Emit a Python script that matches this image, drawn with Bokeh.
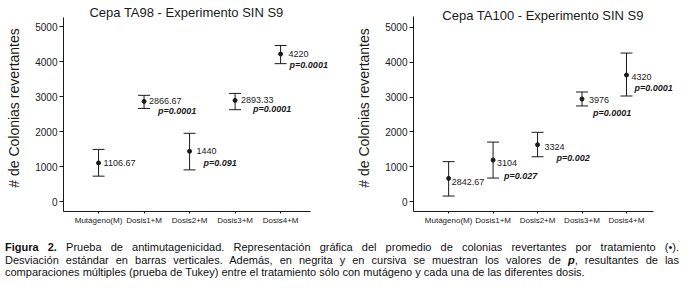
from bokeh.plotting import figure
from bokeh.models import (ColumnDataSource, Whisker, TeeHead, FixedTicker, Range1d,
                          Label, Div, Spacer)
from bokeh.layouts import column, row
from bokeh.embed import file_html
from bokeh.resources import INLINE

# ---------------- data ----------------
categories = ["Mutágeno(M)", "Dosis1+M", "Dosis2+M", "Dosis3+M", "Dosis4+M"]
y_ticks = [0, 1000, 2000, 3000, 4000, 5000]

ta98_title = "Cepa TA98 - Experimento SIN S9"
ta98_mean = [1106.67, 2866.67, 1440, 2893.33, 4220]
ta98_upper = [1495, 3040, 1955, 3095, 4465]
ta98_lower = [730, 2665, 910, 2630, 3945]
ta98_labels = ["1106.67", "2866.67", "1440", "2893.33", "4220"]
ta98_p = ["", "p=0.0001", "p=0.091", "p=0.0001", "p=0.0001"]

ta100_title = "Cepa TA100 - Experimento SIN S9"
ta100_mean = [670, 1195, 1635, 2945, 3630]
ta100_upper = [1150, 1710, 1990, 3145, 4260]
ta100_lower = [165, 680, 1290, 2745, 3030]
ta100_labels = ["2842.67", "3104", "3324", "3976", "4320"]
ta100_p = ["", "p=0.027", "p=0.002", "p=0.0001", "p=0.0001"]

y_label = "# de Colonias revertantes"

# ---------------- style / layout ----------------
INK = "#1a1a1a"
FONT = "Liberation Sans"

# view ranges are wider than the drawn axes (bounds) so that the title and
# labels that run past the axes are not clipped by the plot frame
ta98_style = dict(
    xr=(-0.77, 5.25), yr=(-280, 5636), xb=(-0.77, 4.66), yb=(-280, 5272),
    width=337, height=224, left=63, right=0, top=0, bottom=13,
    title_dx=-14, title_dy=11.5,
    vx=[5, 5, 7, 6, 8], vy=[0, 0, 0, 0, 0],
    px=[0, 14, 14, 18, 9], py=[0, 10, 12, 9, 11],
)
ta100_style = dict(
    xr=(-0.79, 5.08), yr=(-278, 5651), xb=(-0.79, 4.61), yb=(-278, 5307),
    width=337, height=224, left=76, right=0, top=0, bottom=17,
    title_dx=-1, title_dy=11,
    vx=[3, 4, 7, 7, 5], vy=[4, 3, 2, 1, 2],
    px=[0, 11, 19, 11, 8], py=[0, 16, 13, 14, 13],
)


def make_panel(title, means, upper, lower, labels, pvals, st):
    xs = list(range(len(categories)))
    src = ColumnDataSource(dict(x=xs, mean=means, upper=upper, lower=lower))
    p = figure(width=st["width"], height=st["height"],
               x_range=Range1d(*st["xr"]), y_range=Range1d(*st["yr"]),
               output_backend="svg", toolbar_location=None,
               min_border_left=st["left"], min_border_right=st["right"],
               min_border_top=st["top"], min_border_bottom=st["bottom"])
    p.xgrid.visible = False
    p.ygrid.visible = False
    p.outline_line_color = None

    # axes
    p.xaxis.ticker = FixedTicker(ticks=xs)
    p.xaxis.major_label_overrides = {i: c for i, c in zip(xs, categories)}
    p.xaxis.bounds = st["xb"]
    p.yaxis.ticker = FixedTicker(ticks=y_ticks)
    p.yaxis.bounds = st["yb"]
    for ax in (p.xaxis[0], p.yaxis[0]):
        ax.axis_line_color = INK
        ax.axis_line_width = 1
        ax.major_tick_line_color = INK
        ax.minor_tick_line_color = None
        ax.major_tick_in = 0
        ax.major_label_text_color = INK
    p.xaxis.major_tick_out = 2
    p.xaxis.major_label_standoff = 2
    p.xaxis.major_label_text_font = FONT
    p.xaxis.major_label_text_font_size = "8px"
    p.yaxis.major_tick_out = 4
    p.yaxis.major_label_standoff = 2
    p.yaxis.major_label_text_font = FONT
    p.yaxis.major_label_text_font_size = "10px"
    p.yaxis.axis_label = y_label
    p.yaxis.axis_label_text_font = FONT
    p.yaxis.axis_label_text_font_size = "14px"
    p.yaxis.axis_label_text_font_style = "normal"
    p.yaxis.axis_label_text_color = INK
    p.yaxis.axis_label_standoff = 10

    # error bars (mean +/- SD)
    p.add_layout(Whisker(source=src, base="x", upper="upper", lower="lower",
                         dimension="height", line_color=INK, line_width=1,
                         upper_head=TeeHead(size=12, line_color=INK, line_width=1),
                         lower_head=TeeHead(size=12, line_color=INK, line_width=1)))
    p.scatter(x="x", y="mean", source=src, size=4, color=INK)

    for i, x in enumerate(xs):
        p.add_layout(Label(x=x, y=means[i], text=labels[i],
                           x_offset=st["vx"][i], y_offset=-st["vy"][i],
                           text_font=FONT, text_font_size="9px",
                           text_align="left", text_baseline="middle",
                           text_color=INK))
        if pvals[i]:
            p.add_layout(Label(x=x, y=means[i], text=pvals[i],
                               x_offset=st["px"][i], y_offset=-st["py"][i],
                               text_font=FONT, text_font_size="9px",
                               text_font_style="bold italic",
                               text_align="left", text_baseline="middle",
                               text_color=INK))

    frame_w = st["width"] - st["left"] - st["right"]
    frame_h = st["height"] - st["top"] - st["bottom"]
    p.add_layout(Label(x=frame_w / 2 + st["title_dx"], y=frame_h - st["title_dy"],
                       x_units="screen", y_units="screen", text=title,
                       text_align="center", text_baseline="alphabetic",
                       text_font=FONT, text_font_size="13px", text_color=INK))
    return p


p1 = make_panel(ta98_title, ta98_mean, ta98_upper, ta98_lower,
                ta98_labels, ta98_p, ta98_style)
p2 = make_panel(ta100_title, ta100_mean, ta100_upper, ta100_lower,
                ta100_labels, ta100_p, ta100_style)

line_css = "white-space:nowrap;text-align:justify;text-align-last:justify;"
caption_html = (
    "<div style=\"font-family:'Liberation Sans',Arial,sans-serif;font-size:11px;"
    "line-height:12.5px;color:#111;padding-top:8px;width:674px;height:46px;"
    "overflow:hidden;box-sizing:border-box;\">"
    f"<div style='{line_css}'><b>Figura 2.</b> Prueba de antimutagenicidad. "
    "Representación gráfica del promedio de colonias revertantes por tratamiento "
    "(•).</div>"
    f"<div style='{line_css}'>Desviación estándar en barras verticales. Además, en negrita y "
    "en cursiva se muestran los valores de <b><i>p</i></b>, resultantes de las</div>"
    "<div style='white-space:nowrap;'>comparaciones múltiples (prueba de Tukey) entre el "
    "tratamiento sólo con mutágeno y cada una de las diferentes dosis.</div>"
    "</div>"
)
caption = Div(text=caption_html, width=674, height=46)

layout = column(Spacer(width=674, height=4), row(p1, p2), caption)

with open("out.html", "w") as f:
    f.write(file_html(layout, INLINE))
